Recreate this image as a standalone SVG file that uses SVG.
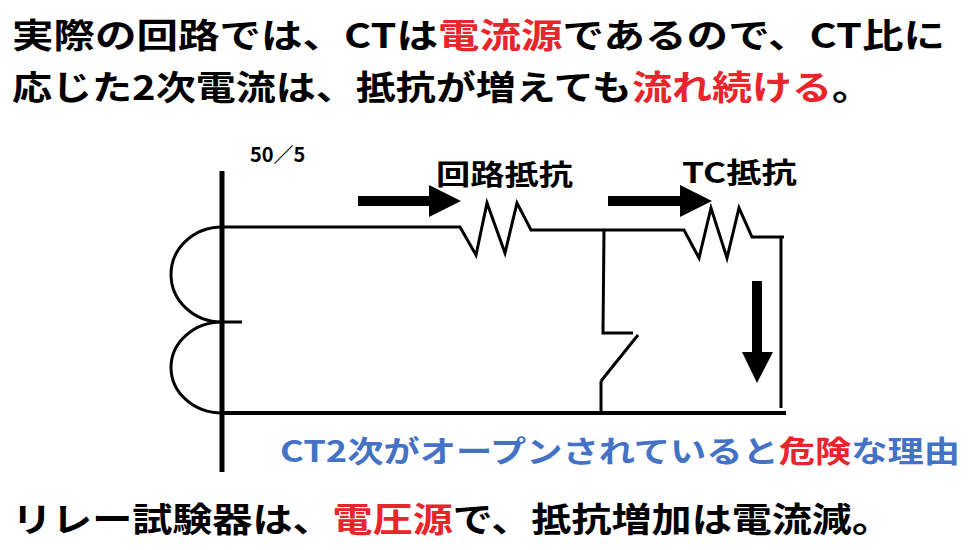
<svg xmlns="http://www.w3.org/2000/svg" width="968" height="550" viewBox="0 0 968 550">
<style>
.t{font-family:"Noto Sans CJK JP","Liberation Sans",sans-serif;font-weight:bold;fill:#000}
.r{fill:#e8252b}.b{fill:#4472c4}
.w{fill:none;stroke:#000;stroke-width:3}
.th{fill:none;stroke:#000;stroke-width:5}
</style>
<rect width="968" height="550" fill="#fff"/>
<g id="title">
<text class="t" x="12" y="48" font-size="34" textLength="933" lengthAdjust="spacingAndGlyphs">実際の回路では、CTは<tspan class="r">電流源</tspan>であるので、CT比に</text>
<text class="t" x="12" y="100" font-size="34" textLength="860" lengthAdjust="spacingAndGlyphs">応じた2次電流は、抵抗が増えても<tspan class="r">流れ続ける</tspan>。</text>
</g>
<g id="ct">
<line class="th" x1="222" y1="171" x2="222" y2="472"/>
<path class="w" d="M222,227 A51,47.5 0 0 0 222,322 A51,45.5 0 0 0 222,413"/>
<line class="w" x1="222" y1="322" x2="242" y2="322"/>
<text class="t" x="250" y="162" font-size="20" font-weight="normal">50／5</text>
</g>
<g id="r1">
<text class="t" x="436" y="185" font-size="28" textLength="137" lengthAdjust="spacingAndGlyphs">回路抵抗</text>
</g>
<g id="r2">
<text class="t" x="682" y="183" font-size="28" textLength="115" lengthAdjust="spacingAndGlyphs">TC抵抗</text>
</g>
<g id="connectors">
<polyline class="w" points="222,227 460,227 476,255 487,203 505,253 517,203 531,230 684,230 699,258 711,208 727,258 739,208 752,237 784,237"/>
<line class="w" x1="781" y1="237" x2="781" y2="408"/>
<polyline class="w" points="604,230 603,333 633,333"/>
<line class="w" x1="638" y1="335" x2="601" y2="381"/>
<line class="w" x1="601" y1="381" x2="601" y2="413"/>
<rect x="220" y="411" width="566" height="4" fill="#000"/>
<path d="M358,196 H429 V185 L461,201 L429,217 V206 H358Z"/>
<path d="M608,196 H680 V185 L712,201 L680,217 V206 H608Z"/>
<path d="M752,281 V352 H742 L757,383 L773,352 H762 V281Z"/>
</g>
<g id="notes">
<text class="t b" x="280" y="462" font-size="30" textLength="680" lengthAdjust="spacingAndGlyphs">CT2次がオープンされていると<tspan class="r">危険</tspan>な理由</text>
<text class="t" x="12" y="532" font-size="34" textLength="880" lengthAdjust="spacingAndGlyphs">リレー試験器は、<tspan class="r">電圧源</tspan>で、抵抗増加は電流減。</text>
</g>
</svg>
